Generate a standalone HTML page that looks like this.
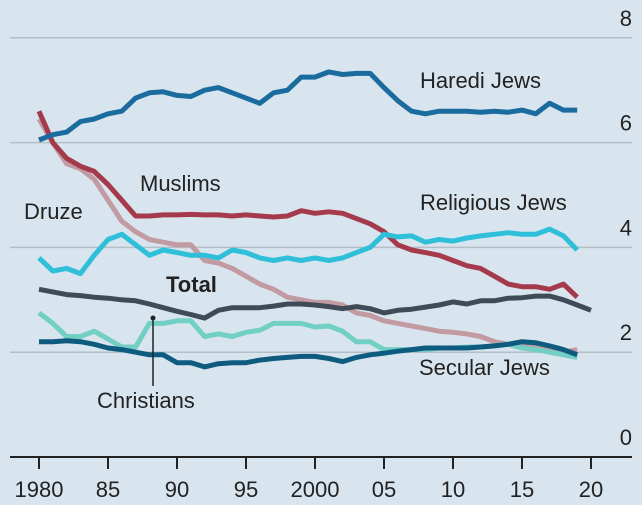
<!DOCTYPE html>
<html><head><meta charset="utf-8"><style>
html,body{margin:0;padding:0;background:#d9e5ee;}
svg{display:block;font-family:"Liberation Sans",sans-serif;}
</style></head><body>
<svg id="chart" width="642" height="505" viewBox="0 0 642 505">
<rect width="642" height="505" fill="#d9e5ee"/>
<g id="grid"></g><g id="lines"></g><g id="labels"></g>
</svg>
<script>
const years = []; for (let y = 1980; y <= 2019; y++) years.push(y);
const totalYears = []; for (let y = 1980; y <= 2020; y++) totalYears.push(y);
const haredi = [6.05,6.15,6.2,6.4,6.45,6.55,6.6,6.85,6.95,6.97,6.9,6.88,7.0,7.05,6.95,6.85,6.75,6.95,7.0,7.25,7.25,7.35,7.3,7.32,7.32,7.05,6.8,6.6,6.55,6.6,6.6,6.6,6.58,6.6,6.58,6.62,6.55,6.75,6.62,6.62];
const druze = [6.45,6.0,5.6,5.5,5.3,4.9,4.5,4.3,4.15,4.1,4.05,4.05,3.75,3.7,3.6,3.45,3.3,3.2,3.05,3.0,2.95,2.95,2.9,2.75,2.7,2.6,2.55,2.5,2.45,2.4,2.38,2.35,2.3,2.2,2.15,2.1,2.1,2.05,2.0,2.05];
const muslims = [6.6,6.0,5.7,5.55,5.45,5.2,4.9,4.6,4.6,4.62,4.62,4.63,4.62,4.62,4.6,4.62,4.6,4.58,4.6,4.7,4.65,4.68,4.65,4.55,4.45,4.3,4.05,3.95,3.9,3.85,3.75,3.65,3.6,3.45,3.3,3.25,3.25,3.2,3.3,3.05];
const religious = [3.8,3.55,3.6,3.5,3.85,4.15,4.25,4.05,3.85,3.95,3.9,3.85,3.85,3.8,3.95,3.9,3.8,3.75,3.8,3.75,3.8,3.75,3.8,3.9,4.0,4.25,4.2,4.22,4.1,4.15,4.12,4.18,4.22,4.25,4.28,4.25,4.25,4.35,4.22,3.95];
const total = [3.2,3.15,3.1,3.08,3.05,3.03,3.0,2.98,2.92,2.85,2.78,2.72,2.65,2.8,2.85,2.85,2.85,2.88,2.92,2.92,2.9,2.87,2.83,2.87,2.83,2.75,2.8,2.82,2.86,2.9,2.96,2.92,2.98,2.98,3.03,3.04,3.07,3.07,3.0,2.9,2.8];
const christians = [2.75,2.55,2.3,2.3,2.4,2.25,2.1,2.1,2.55,2.55,2.6,2.6,2.3,2.35,2.3,2.38,2.42,2.55,2.55,2.55,2.48,2.5,2.4,2.2,2.2,2.05,2.05,2.05,2.05,2.08,2.08,2.1,2.1,2.12,2.15,2.08,2.05,2.0,1.95,1.9];
const secular = [2.2,2.2,2.22,2.2,2.15,2.08,2.05,2.0,1.95,1.95,1.8,1.8,1.72,1.78,1.8,1.8,1.85,1.88,1.9,1.92,1.92,1.88,1.82,1.9,1.95,1.98,2.02,2.05,2.08,2.08,2.08,2.08,2.1,2.12,2.15,2.2,2.18,2.12,2.05,1.95];
const yTicks = [0,2,4,6,8];
const xTicks = [1980,1985,1990,1995,2000,2005,2010,2015,2020];
const xTickLabels = ["1980","85","90","95","2000","05","10","15","20"];

const NS = "http://www.w3.org/2000/svg";
const x = yr => 39 + (yr - 1980) * (591 - 39) / 40;
const y = v => 457 - v * 52.4;
function mk(tag, attrs, parent){const e=document.createElementNS(NS,tag);for(const k in attrs)e.setAttribute(k,attrs[k]);parent.appendChild(e);return e;}
const grid = document.getElementById('grid'), lines = document.getElementById('lines'), labels = document.getElementById('labels');

yTicks.forEach(t => {
  if (t > 0) {
    const g = mk('line',{x1:10,x2:632,y1:y(t),y2:y(t),stroke:'#b3bec6','stroke-width':1.5},grid);
    
    
  }
  const tx = mk('text',{x:632,y:y(t)-12,'text-anchor':'end','font-size':22,fill:'#222'},labels);
  tx.textContent = t;
  
  
});
const ax = mk('line',{x1:10,x2:632,y1:457,y2:457,stroke:'#222','stroke-width':2},grid);


xTicks.forEach((t,i) => {
  const tk = mk('line',{x1:x(t),x2:x(t),y1:457,y2:469,stroke:'#222','stroke-width':2},grid);
  
  
  const tx = mk('text',{x:x(t),y:497,'text-anchor':'middle','font-size':22,fill:'#222'},labels);
  tx.textContent = xTickLabels[i];
  
  
});

function series(name, xs, vals, color){
  const d = vals.map((v,i)=>(i?'L':'M')+x(xs[i]).toFixed(1)+','+y(v).toFixed(1)).join(' ');
  const p = mk('path',{d:d,fill:'none',stroke:color,'stroke-width':5,'stroke-linejoin':'round'},lines);
  
  
}
series('line-druze', years, druze, '#c29aa2');
series('line-muslims', years, muslims, '#a53a4c');
series('line-christians', years, christians, '#72cfc4');
series('line-religious-jews', years, religious, '#2fbfd8');
series('line-total', totalYears, total, '#3f4b56');
series('line-secular-jews', years, secular, '#0e5b80');
series('line-haredi-jews', years, haredi, '#1a6c9f');

const pl = mk('line',{x1:153,x2:153,y1:318,y2:386,stroke:'#222','stroke-width':1.5},labels);


const pd = mk('circle',{cx:153,cy:318,r:2.5,fill:'#222'},labels);



const labs = [["Haredi Jews",420,88,'label-haredi-jews',400],["Muslims",140,191,'label-muslims',400],["Druze",24,219,'label-druze',400],["Religious Jews",420,210,'label-religious-jews',400],["Total",166,292,'label-total',700],["Christians",97,408,'label-christians',400],["Secular Jews",419,375,'label-secular-jews',400]];
labs.forEach(l => {
  const t = mk('text',{x:l[1],y:l[2],'font-size':22,'font-weight':l[4],fill:'#222'},labels);
  t.textContent = l[0];
  
  
});
</script>
</body></html>
